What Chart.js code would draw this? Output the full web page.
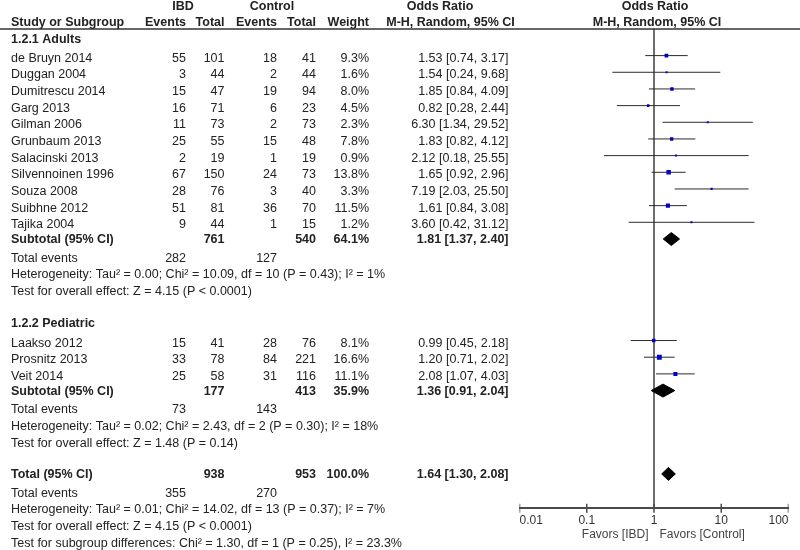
<!DOCTYPE html>
<html>
<head>
<meta charset="utf-8">
<script src="https://cdn.jsdelivr.net/npm/chart.js@4.4.1/dist/chart.umd.min.js"></script>
<style>
  html, body { margin: 0; padding: 0; background: #ffffff; }
  #wrap { width: 800px; height: 550px; }
</style>
</head>
<body>
<div id="wrap"><canvas id="c" width="800" height="550"></canvas></div>
<script>
// ---------------- DATA ----------------
const adultStudies = ["de Bruyn 2014","Duggan 2004","Dumitrescu 2014","Garg 2013","Gilman 2006","Grunbaum 2013","Salacinski 2013","Silvennoinen 1996","Souza 2008","Suibhne 2012","Tajika 2004"];
const adultIbdEvents  = [55, 3, 15, 16, 11, 25, 2, 67, 28, 51, 9];
const adultIbdTotal   = [101, 44, 47, 71, 73, 55, 19, 150, 76, 81, 44];
const adultCtrlEvents = [18, 2, 19, 6, 2, 15, 1, 24, 3, 36, 1];
const adultCtrlTotal  = [41, 44, 94, 23, 73, 48, 19, 73, 40, 70, 15];
const adultWeight     = [9.3, 1.6, 8.0, 4.5, 2.3, 7.8, 0.9, 13.8, 3.3, 11.5, 1.2];
const adultOR         = [1.53, 1.54, 1.85, 0.82, 6.30, 1.83, 2.12, 1.65, 7.19, 1.61, 3.60];
const adultLo         = [0.74, 0.24, 0.84, 0.28, 1.34, 0.82, 0.18, 0.92, 2.03, 0.84, 0.42];
const adultHi         = [3.17, 9.68, 4.09, 2.44, 29.52, 4.12, 25.55, 2.96, 25.50, 3.08, 31.12];

const pedStudies    = ["Laakso 2012","Prosnitz 2013","Veit 2014"];
const pedIbdEvents  = [15, 33, 25];
const pedIbdTotal   = [41, 78, 58];
const pedCtrlEvents = [28, 84, 31];
const pedCtrlTotal  = [76, 221, 116];
const pedWeight     = [8.1, 16.6, 11.1];
const pedOR         = [0.99, 1.20, 2.08];
const pedLo         = [0.45, 0.71, 1.07];
const pedHi         = [2.18, 2.02, 4.03];

// summaries: [adults subtotal, pediatric subtotal, overall total]
const summaryLabels    = ["Subtotal (95% CI)", "Subtotal (95% CI)", "Total (95% CI)"];
const summaryIbdTotal  = [761, 177, 938];
const summaryCtrlTotal = [540, 413, 953];
const summaryWeight    = ["64.1%", "35.9%", "100.0%"];
const summaryOR        = [1.81, 1.36, 1.64];
const summaryLo        = [1.37, 0.91, 1.30];
const summaryHi        = [2.40, 2.04, 2.08];
const summaryIbdEvents = [282, 73, 355];
const summaryCtrlEvents= [127, 143, 270];
const heterogeneityText = [
  "Heterogeneity: Tau\u00b2 = 0.00; Chi\u00b2 = 10.09, df = 10 (P = 0.43); I\u00b2 = 1%",
  "Heterogeneity: Tau\u00b2 = 0.02; Chi\u00b2 = 2.43, df = 2 (P = 0.30); I\u00b2 = 18%",
  "Heterogeneity: Tau\u00b2 = 0.01; Chi\u00b2 = 14.02, df = 13 (P = 0.37); I\u00b2 = 7%"
];
const overallEffectText = [
  "Test for overall effect: Z = 4.15 (P < 0.0001)",
  "Test for overall effect: Z = 1.48 (P = 0.14)",
  "Test for overall effect: Z = 4.15 (P < 0.0001)"
];
const subgroupText = "Test for subgroup differences: Chi\u00b2 = 1.30, df = 1 (P = 0.25), I\u00b2 = 23.3%";
const groupHeadings = ["1.2.1 Adults", "1.2.2 Pediatric"];
const tickValues = [0.01, 0.1, 1, 10, 100];
const tickLabels = ["0.01", "0.1", "1", "10", "100"];
const favorLabels = ["Favors [IBD]", "Favors [Control]"];

// ---------------- LAYOUT (pixel rows) ----------------
const ROW = 16.67;
const SEP_Y = 29;
const AXIS_Y = 508.3;
const L = {};
L.adultHead = 39.3;
L.adultY = adultStudies.map((_, i) => 58.3 + i * ROW);
L.sub1 = L.adultY[L.adultY.length - 1] + 15;
L.ev1 = L.sub1 + 18.3; L.het1 = L.ev1 + ROW; L.test1 = L.het1 + ROW;
L.pedHead = L.test1 + 32.3;
L.pedY = pedStudies.map((_, i) => L.pedHead + 19.3 + i * ROW);
L.sub2 = L.pedY[L.pedY.length - 1] + 15;
L.ev2 = L.sub2 + 18.3; L.het2 = L.ev2 + ROW; L.test2 = L.het2 + ROW;
L.tot = L.test2 + 31.7;
L.ev3 = L.tot + 18.3; L.het3 = L.ev3 + ROW; L.test3 = L.het3 + ROW; L.subg = L.test3 + ROW;
const summaryRowY = [L.sub1, L.sub2, L.tot];

// ---------------- BUILD DATASETS ----------------
const allOR = adultOR.concat(pedOR);
const allLo = adultLo.concat(pedLo);
const allHi = adultHi.concat(pedHi);
const allW  = adultWeight.concat(pedWeight);
const allY  = L.adultY.concat(L.pedY).map(v => v - 2.7);

const ciData = [];
allOR.forEach((_, i) => {
  ciData.push({x: allLo[i], y: allY[i]});
  ciData.push({x: allHi[i], y: allY[i]});
  ciData.push({x: allHi[i], y: null});
});
const squareData = allOR.map((v, i) => ({x: v, y: allY[i]}));
const squareRadius = allW.map(w => Math.max(2, 1.2 * Math.sqrt(w)) / Math.SQRT2);

const datasets = [];
datasets.push({
  type: 'line', data: ciData, borderColor: '#2b2b2b', borderWidth: 1,
  pointRadius: 0, spanGaps: false, fill: false, order: 2
});
datasets.push({
  type: 'scatter', data: squareData, pointStyle: 'rect', pointRadius: squareRadius,
  pointHoverRadius: squareRadius, backgroundColor: '#0000c8', borderColor: '#0000c8',
  borderWidth: 0, order: 1
});
const H = 6.5;
summaryOR.forEach((v, k) => {
  const yc = summaryRowY[k] - 1;
  const upperIndex = datasets.length;
  datasets.push({
    type: 'line',
    data: [{x: summaryLo[k], y: yc}, {x: v, y: yc - H}, {x: summaryHi[k], y: yc}],
    borderColor: '#000', borderWidth: 1, pointRadius: 0, fill: false, order: 1
  });
  datasets.push({
    type: 'line',
    data: [{x: summaryLo[k], y: yc}, {x: v, y: yc + H}, {x: summaryHi[k], y: yc}],
    borderColor: '#000', borderWidth: 1, pointRadius: 0,
    backgroundColor: '#000', fill: upperIndex, order: 1
  });
});
datasets.push({
  type: 'line', data: [{x: 1, y: SEP_Y}, {x: 1, y: AXIS_Y}],
  borderColor: '#6e6e6e', borderWidth: 2, pointRadius: 0, fill: false, order: 3
});
datasets.push({
  type: 'scatter', data: tickValues.map(v => ({x: v, y: AXIS_Y})),
  pointStyle: 'line', rotation: 90, pointRadius: 4.5, pointHoverRadius: 4.5,
  borderColor: '#4a4a4a', borderWidth: 1.5, order: 0
});

// make the hidden y scale map 1 unit = 1 canvas pixel from the page top
const pixelYPlugin = {
  id: 'pixelY',
  afterLayout(chart) {
    const y = chart.scales.y;
    y.min = y.top;
    y.max = y.bottom;
    y.configure();
  }
};

// ---------------- TEXT TABLE PLUGIN ----------------
const FONT = "'Liberation Sans', Arial, sans-serif";
const COL = { name: 11, ibdEv: 186, ibdTot: 224.5, ctlEv: 277, ctlTot: 316, wt: 369, or: 508.5 };
const tablePlugin = {
  id: 'table',
  afterDraw(chart) {
    const ctx = chart.ctx;
    ctx.save();
    ctx.textBaseline = 'middle';
    const txt = (s, x, y, align, bold, color, size) => {
      ctx.font = (bold ? 'bold ' : '') + (size || 12.5) + 'px ' + FONT;
      ctx.fillStyle = color || '#222';
      ctx.textAlign = align || 'left';
      ctx.fillText(String(s), x, y);
    };
    // headers
    txt('IBD', 183, 7, 'center', true);
    txt('Control', 272, 7, 'center', true);
    txt('Odds Ratio', 440, 7, 'center', true);
    txt('Odds Ratio', 655, 7, 'center', true);
    txt('Study or Subgroup', COL.name, 22.5, 'left', true);
    txt('Events', COL.ibdEv, 22.5, 'right', true);
    txt('Total', COL.ibdTot, 22.5, 'right', true);
    txt('Events', COL.ctlEv, 22.5, 'right', true);
    txt('Total', COL.ctlTot, 22.5, 'right', true);
    txt('Weight', COL.wt, 22.5, 'right', true);
    txt('M-H, Random, 95% CI', 450.5, 22.5, 'center', true);
    txt('M-H, Random, 95% CI', 657, 22.5, 'center', true);
    ctx.strokeStyle = '#333'; ctx.lineWidth = 1.5;
    ctx.beginPath(); ctx.moveTo(0, SEP_Y); ctx.lineTo(800, SEP_Y); ctx.stroke();

    const ci = (o, l, h) => o.toFixed(2) + ' [' + l.toFixed(2) + ', ' + h.toFixed(2) + ']';
    const studyRows = (names, ie, it, ce, ct, w, o, lo, hi, ys) => {
      names.forEach((n, i) => {
        const y = ys[i];
        txt(n, COL.name, y);
        txt(ie[i], COL.ibdEv, y, 'right');
        txt(it[i], COL.ibdTot, y, 'right');
        txt(ce[i], COL.ctlEv, y, 'right');
        txt(ct[i], COL.ctlTot, y, 'right');
        txt(w[i].toFixed(1) + '%', COL.wt, y, 'right');
        txt(ci(o[i], lo[i], hi[i]), COL.or, y, 'right');
      });
    };
    const summaryRow = (k, y) => {
      txt(summaryLabels[k], COL.name, y, 'left', true);
      txt(summaryIbdTotal[k], COL.ibdTot, y, 'right', true);
      txt(summaryCtrlTotal[k], COL.ctlTot, y, 'right', true);
      txt(summaryWeight[k], COL.wt, y, 'right', true);
      txt(ci(summaryOR[k], summaryLo[k], summaryHi[k]), COL.or, y, 'right', true);
    };
    const footer = (k, yEv, yHet, yTest) => {
      txt('Total events', COL.name, yEv);
      txt(summaryIbdEvents[k], COL.ibdEv, yEv, 'right');
      txt(summaryCtrlEvents[k], COL.ctlEv, yEv, 'right');
      txt(heterogeneityText[k], COL.name, yHet);
      txt(overallEffectText[k], COL.name, yTest);
    };
    txt(groupHeadings[0], COL.name, L.adultHead, 'left', true);
    studyRows(adultStudies, adultIbdEvents, adultIbdTotal, adultCtrlEvents, adultCtrlTotal, adultWeight, adultOR, adultLo, adultHi, L.adultY);
    summaryRow(0, L.sub1);
    footer(0, L.ev1, L.het1, L.test1);
    txt(groupHeadings[1], COL.name, L.pedHead, 'left', true);
    studyRows(pedStudies, pedIbdEvents, pedIbdTotal, pedCtrlEvents, pedCtrlTotal, pedWeight, pedOR, pedLo, pedHi, L.pedY);
    summaryRow(1, L.sub2);
    footer(1, L.ev2, L.het2, L.test2);
    summaryRow(2, L.tot);
    footer(2, L.ev3, L.het3, L.test3);
    txt(subgroupText, COL.name, L.subg);

    // favors labels under axis
    const xs = chart.scales.x;
    const x1 = xs.getPixelForValue(1);
    txt(favorLabels[0], x1 - 5.5, 534.5, 'right', false, '#444', 12);
    txt(favorLabels[1], x1 + 5.5, 534.5, 'left', false, '#444', 12);
    ctx.restore();
  }
};

new Chart(document.getElementById('c'), {
  type: 'line',
  data: { datasets },
  options: {
    responsive: false,
    animation: false,
    devicePixelRatio: 1,
    events: [],
    layout: { padding: { left: 519.5, right: 11.5, top: 0, bottom: 0 } },
    plugins: { legend: { display: false }, tooltip: { enabled: false }, title: { display: false } },
    scales: {
      x: {
        type: 'logarithmic', min: 0.01, max: 100,
        position: { y: AXIS_Y },
        afterBuildTicks: s => { s.ticks = tickValues.map(v => ({ value: v })); },
        ticks: {
          align: 'inner', autoSkip: false, maxRotation: 0, padding: 5,
          color: '#333', font: { family: FONT, size: 12 },
          callback: (v, i) => tickLabels[i]
        },
        grid: { display: true, drawOnChartArea: false, drawTicks: false },
        border: { display: true, color: '#4a4a4a', width: 2 }
      },
      y: {
        type: 'linear', min: 0, max: 550, reverse: true, display: false
      }
    }
  },
  plugins: [pixelYPlugin, tablePlugin]
});
</script>
</body>
</html>
